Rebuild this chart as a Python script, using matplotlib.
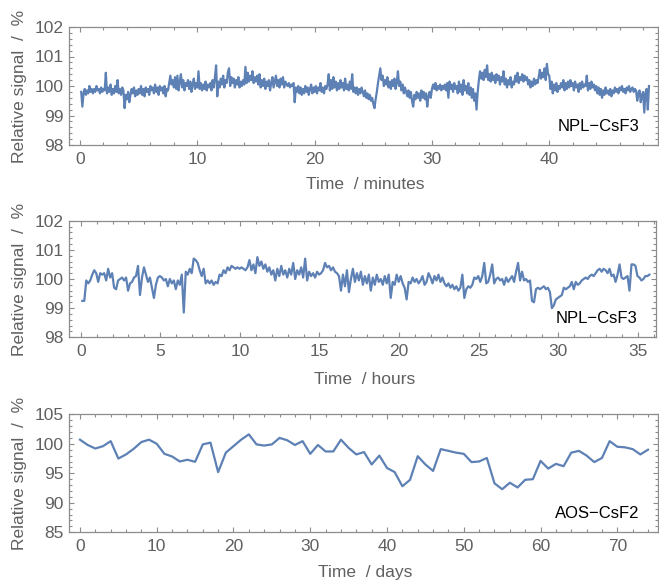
import matplotlib
matplotlib.use("Agg")
import matplotlib.pyplot as plt
import numpy as np
from matplotlib.ticker import MultipleLocator

plt.rcParams['font.family'] = ['Liberation Sans', 'DejaVu Sans']

# NPL-CsF3, minutes (10 readings per minute, t = 0.1 ... 48.5)
sig_min = [
    99.8, 99.3, 99.75, 99.9, 99.7, 99.85, 99.75, 100.0, 99.8, 99.9,
    99.75, 99.9, 99.8, 100.0, 99.85, 99.9, 99.75, 99.95, 99.8, 99.9,
    99.85, 100.45, 99.75, 99.95, 99.8, 100.05, 99.7, 99.9, 99.75, 100.0,
    99.8, 100.2, 99.75, 99.9, 99.7, 99.95, 99.85, 99.25, 99.7, 99.55,
    99.8, 99.45, 99.7, 99.9, 99.75, 99.95, 99.65, 99.85, 99.7, 99.9,
    99.75, 100.0, 99.7, 99.9, 99.65, 99.95, 99.8, 99.9, 99.7, 100.0,
    99.85, 99.95, 99.75, 100.05, 99.8, 99.95, 99.7, 100.0, 99.85, 99.95,
    99.75, 100.0, 99.65, 99.9, 99.85, 100.1, 100.35, 100.05, 100.2, 99.95,
    100.3, 99.9, 100.35, 99.85, 100.15, 100.4, 99.95, 100.2, 99.85, 100.1,
    100.0, 100.2, 99.9, 100.15, 99.8, 100.05, 100.25, 99.9, 100.1, 99.95,
    100.5, 99.9, 100.1, 99.85, 100.05, 99.9, 100.15, 99.85, 100.05, 99.95,
    100.1, 99.85, 100.2, 99.95, 100.3, 100.7, 99.65, 100.15, 99.95, 100.25,
    100.05, 100.35, 99.95, 100.2, 100.1, 100.45, 100.6, 100.0, 100.3, 100.1,
    100.25, 99.95, 100.2, 100.05, 100.3, 99.95, 100.15, 100.0, 100.2, 100.05,
    100.65, 100.1, 100.45, 100.15, 100.35, 100.2, 100.5, 100.1, 100.3, 100.15,
    100.35, 100.05, 100.4, 99.95, 100.2, 100.0, 100.25, 99.9, 100.15, 100.0,
    100.2, 99.85, 100.1, 100.3, 99.95, 100.15, 100.35, 100.0, 100.2, 99.95,
    100.25, 100.05, 100.3, 99.95, 100.15, 100.05, 100.0, 100.1, 99.95, 100.05,
    100.0, 100.1, 99.45, 99.95, 99.8, 100.0, 99.75, 99.95, 99.7, 99.9,
    99.75, 100.0, 99.8, 99.95, 99.7, 99.9, 100.05, 99.75, 99.95, 99.8,
    100.0, 99.75, 99.95, 99.85, 100.1, 99.8, 99.95, 99.75, 100.0, 99.9,
    100.05, 100.4, 99.85, 100.2, 99.9, 100.3, 99.95, 100.15, 99.85, 100.1,
    99.9, 100.2, 99.95, 100.1, 99.85, 100.25, 99.9, 100.05, 99.85, 100.15,
    99.9, 100.4, 99.8, 99.95, 99.75, 99.95, 99.7, 99.9, 99.75, 99.95,
    99.8, 99.65, 99.85, 99.6, 99.75, 99.55, 99.7, 99.5, 99.6, 99.4,
    99.25, 99.55, 99.8, 100.1, 100.35, 100.6, 100.2, 100.35, 100.0, 100.2,
    100.05, 100.3, 99.95, 100.15, 99.9, 100.2, 100.0, 100.25, 99.9, 100.1,
    100.5, 100.0, 100.15, 99.85, 100.05, 99.75, 99.95, 99.8, 99.65, 99.85,
    99.6, 99.8, 99.5, 99.3, 99.7, 99.55, 99.8, 99.6, 99.75, 99.5,
    99.85, 99.6, 99.8, 99.55, 99.75, 99.3, 99.65, 99.8, 99.6, 99.9,
    100.05, 99.9, 100.1, 99.85, 100.0, 99.9, 100.05, 99.85, 100.0, 99.9,
    100.05, 99.85, 100.1, 99.6, 100.15, 99.9, 100.05, 99.8, 100.1, 99.9,
    100.0, 99.75, 100.15, 99.8, 100.05, 99.7, 100.2, 99.85, 100.0, 99.75,
    100.1, 99.7, 99.95, 99.6, 99.9, 99.5, 99.75, 99.2, 99.8, 100.2,
    100.5, 100.25, 100.45, 100.2, 100.55, 100.3, 100.7, 100.2, 100.4, 100.15,
    100.45, 100.2, 100.35, 100.1, 100.4, 100.2, 100.35, 100.05, 100.3, 100.15,
    100.5, 100.05, 100.25, 99.95, 100.2, 100.05, 100.3, 99.95, 100.15, 100.05,
    100.35, 100.15, 100.45, 100.1, 100.3, 100.2, 100.4, 100.15, 100.35, 100.2,
    100.3, 100.05, 100.2, 99.95, 100.15, 100.0, 100.25, 100.05, 100.2, 100.1,
    100.3, 100.55, 100.25, 100.45, 100.3, 100.6, 100.2, 100.75, 100.4, 100.35,
    99.9, 100.15, 99.75, 100.05, 99.85, 100.1, 99.8, 100.0, 99.9, 100.1,
    99.95, 100.2, 99.85, 100.1, 99.9, 100.15, 99.95, 100.2, 100.0, 100.1,
    99.85, 100.15, 99.95, 100.05, 99.8, 100.1, 99.9, 100.15, 99.95, 100.05,
    100.0, 100.35, 99.85, 100.1, 99.9, 100.15, 99.95, 100.05, 99.85, 100.0,
    99.75, 99.95, 99.7, 99.9, 99.6, 99.85, 99.7, 99.95, 99.75, 99.85,
    99.7, 99.9, 99.65, 99.85, 99.75, 99.95, 99.8, 99.9, 99.75, 99.95,
    99.85, 100.0, 99.8, 99.9, 99.75, 99.95, 99.85, 100.0, 99.8, 99.9,
    99.95, 99.8, 99.9, 99.85, 99.5, 99.75, 99.85, 99.45, 99.7, 99.8,
    99.1, 99.75, 99.9, 99.2, 100.0,
]
t_min = 0.1 + 0.1 * np.arange(len(sig_min))

# NPL-CsF3, hours (8 readings per hour, t = 0.1 ... 35.725)
sig_hr = [
    99.25, 99.25, 99.95, 99.85, 99.95, 100.15, 100.3, 100.2,
    99.9, 100.2, 100.15, 100.2, 99.95, 100.35, 100.05, 100.2,
    99.7, 99.65, 99.95, 100.0, 100.05, 99.95, 100.05, 99.6,
    99.85, 99.9, 100.05, 100.1, 100.45, 99.45, 100.05, 100.4,
    100.15, 99.9, 100.05, 99.7, 99.35, 99.8, 100.05, 100.1,
    100.05, 99.95, 100.0, 99.75, 100.0, 99.85, 99.95, 99.65,
    99.95, 99.8, 100.15, 98.85, 100.25, 100.15, 100.35, 100.2,
    100.7, 100.65, 100.55, 100.3, 100.1, 100.35, 99.85, 99.95,
    99.85, 99.95, 99.8, 99.9, 99.85, 100.15, 100.1, 100.3,
    100.2, 100.4, 100.3, 100.45, 100.4, 100.35, 100.4, 100.35,
    100.4, 100.35, 100.3, 100.4, 100.65, 100.3, 100.5, 100.2,
    100.75, 100.45, 100.6, 100.35, 100.5, 100.25, 100.4, 100.15,
    100.3, 99.95, 100.35, 100.1, 100.45, 100.15, 100.3, 100.05,
    100.35, 100.15, 100.55, 100.0, 100.3, 100.15, 100.4, 100.05,
    100.7, 99.95, 100.25, 100.1, 100.2, 100.05, 100.25, 100.15,
    100.2, 100.3, 100.55, 100.4, 100.45, 100.3, 100.4, 100.25,
    100.2, 100.1, 99.6, 100.15, 99.75, 100.3, 99.55, 100.0,
    100.35, 99.9, 100.2, 99.95, 100.25, 99.8, 100.1, 99.85,
    100.15, 99.6, 100.05, 99.8, 100.15, 99.9, 100.0, 99.8,
    100.1, 99.85, 100.15, 99.35, 99.9, 99.8, 100.15, 99.9,
    100.1, 99.85, 99.7, 99.3, 99.9, 99.85, 100.05, 99.9,
    100.0, 99.85, 99.95, 100.1, 99.8, 99.9, 100.2, 100.05,
    99.85, 100.1, 99.95, 100.15, 99.9, 100.05, 99.85, 99.75,
    99.85, 99.7, 99.8, 99.65, 99.75, 99.6, 99.7, 100.15,
    99.35, 99.65, 99.75, 99.7, 99.8, 100.05, 100.0, 100.1,
    99.9, 100.1, 100.55, 99.85, 99.9, 100.15, 100.5, 99.85,
    100.0, 100.05, 99.95, 100.0, 99.8, 100.05, 99.9, 100.0,
    100.1, 99.9, 100.25, 100.55, 99.95, 100.25, 99.95, 100.0,
    99.9, 99.95, 99.25, 99.2, 99.65, 99.7, 99.65, 99.7,
    99.75, 99.65, 99.7, 99.55, 99.0, 99.1, 99.3, 99.35,
    99.4, 99.45, 99.7, 99.65, 99.7, 99.75, 99.9, 99.65,
    99.9, 99.8, 99.85, 99.95, 100.0, 100.05, 100.0, 100.1,
    100.15, 100.1, 100.2, 100.3, 100.35, 100.25, 100.35, 100.3,
    100.2, 100.35, 100.1, 100.15, 99.9, 100.15, 100.5, 100.05,
    100.0, 100.05, 100.1, 99.6, 100.5, 100.5, 100.45, 100.1,
    100.05, 99.95, 100.0, 100.1, 100.1, 100.15,
]
t_hr = 0.1 + 0.125 * np.arange(len(sig_hr))

# AOS-CsF2, days 0 ... 74
sig_day = [
    100.7, 99.8, 99.2, 99.6, 100.45, 97.5, 98.2, 99.15, 100.3, 100.7,
    100.0, 98.3, 97.85, 97.0, 97.3, 96.95, 99.9, 100.2, 95.2, 98.5,
    99.6, 100.7, 101.6, 99.9, 99.7, 99.9, 101.0, 100.6, 99.8, 100.45,
    98.3, 99.8, 98.7, 98.7, 100.7, 99.3, 98.2, 98.6, 96.5, 98.0,
    95.9, 95.2, 92.8, 93.9, 97.9, 96.5, 95.4, 99.1, 98.8, 98.5,
    98.3, 96.9, 97.0, 97.6, 93.3, 92.3, 93.4, 92.6, 93.9, 94.0,
    97.1, 95.8, 96.6, 96.2, 98.5, 98.8, 98.0, 96.9, 97.6, 100.45,
    99.5, 99.4, 99.1, 98.2, 99.0,
]
t_day = np.arange(len(sig_day))

line_col = '#5e81b5'
frame_col = '#8c8c8c'
text_col = '#606060'
W, H = 659, 581

fig = plt.figure(figsize=(W / 100, H / 100), dpi=100)

panels = [
    # (left, top, right, bottom) in pixels, xlim, ylim, xmajor, ymajor, name, x label, x label y px
    ((69, 27, 658, 145), (-0.94, 49.27), (98, 102), 10, 1, 'NPL\u2212CsF3', 'Time  / minutes', 185),
    ((69, 220.7, 656, 337.3), (-0.735, 36.14), (98, 102), 5, 1, 'NPL\u2212CsF3', 'Time  / hours', 380),
    ((69.3, 414.3, 658, 532.3), (-1.39, 75.3), (85, 105), 10, 5, 'AOS\u2212CsF2', 'Time  / days', 573),
]
series = [(t_min, sig_min), (t_hr, sig_hr), (t_day, sig_day)]

for (box, xl, yl, xmaj, ymaj, name, xlab, xly), (tx, sy) in zip(panels, series):
    l, t, r, b = box
    ax = fig.add_axes([l / W, 1 - b / H, (r - l) / W, (b - t) / H])
    ax.plot(tx, sy, color=line_col, lw=1.6)
    ax.set_xlim(*xl)
    ax.set_ylim(*yl)
    ax.xaxis.set_major_locator(MultipleLocator(xmaj))
    ax.xaxis.set_minor_locator(MultipleLocator(xmaj / 5))
    ax.yaxis.set_major_locator(MultipleLocator(ymaj))
    ax.yaxis.set_minor_locator(MultipleLocator(ymaj / 5))
    ax.tick_params(which='both', direction='in', top=True, right=True,
                   color=frame_col, width=0.8, labelcolor=text_col, labelsize=12.5)
    ax.tick_params(which='major', length=3.5)
    ax.tick_params(which='minor', length=2)
    ax.tick_params(axis='x', pad=5)
    ax.tick_params(axis='y', pad=4)
    for s in ax.spines.values():
        s.set_color(frame_col)
        s.set_linewidth(0.9)
    ax.text(0.969, 0.095, name, transform=ax.transAxes, ha='right', va='bottom',
            fontsize=12, color='black')
    fig.text(((l + r) / 2 + 2) / W, 1 - xly / H, xlab, ha='center', va='center',
             fontsize=12.5, color=text_col)
    fig.text(20 / W, 1 - ((t + b) / 2) / H, 'Relative signal  /  %', rotation=90,
             ha='center', va='center', fontsize=12.5, color=text_col)

fig.savefig('out.png', dpi=100)
